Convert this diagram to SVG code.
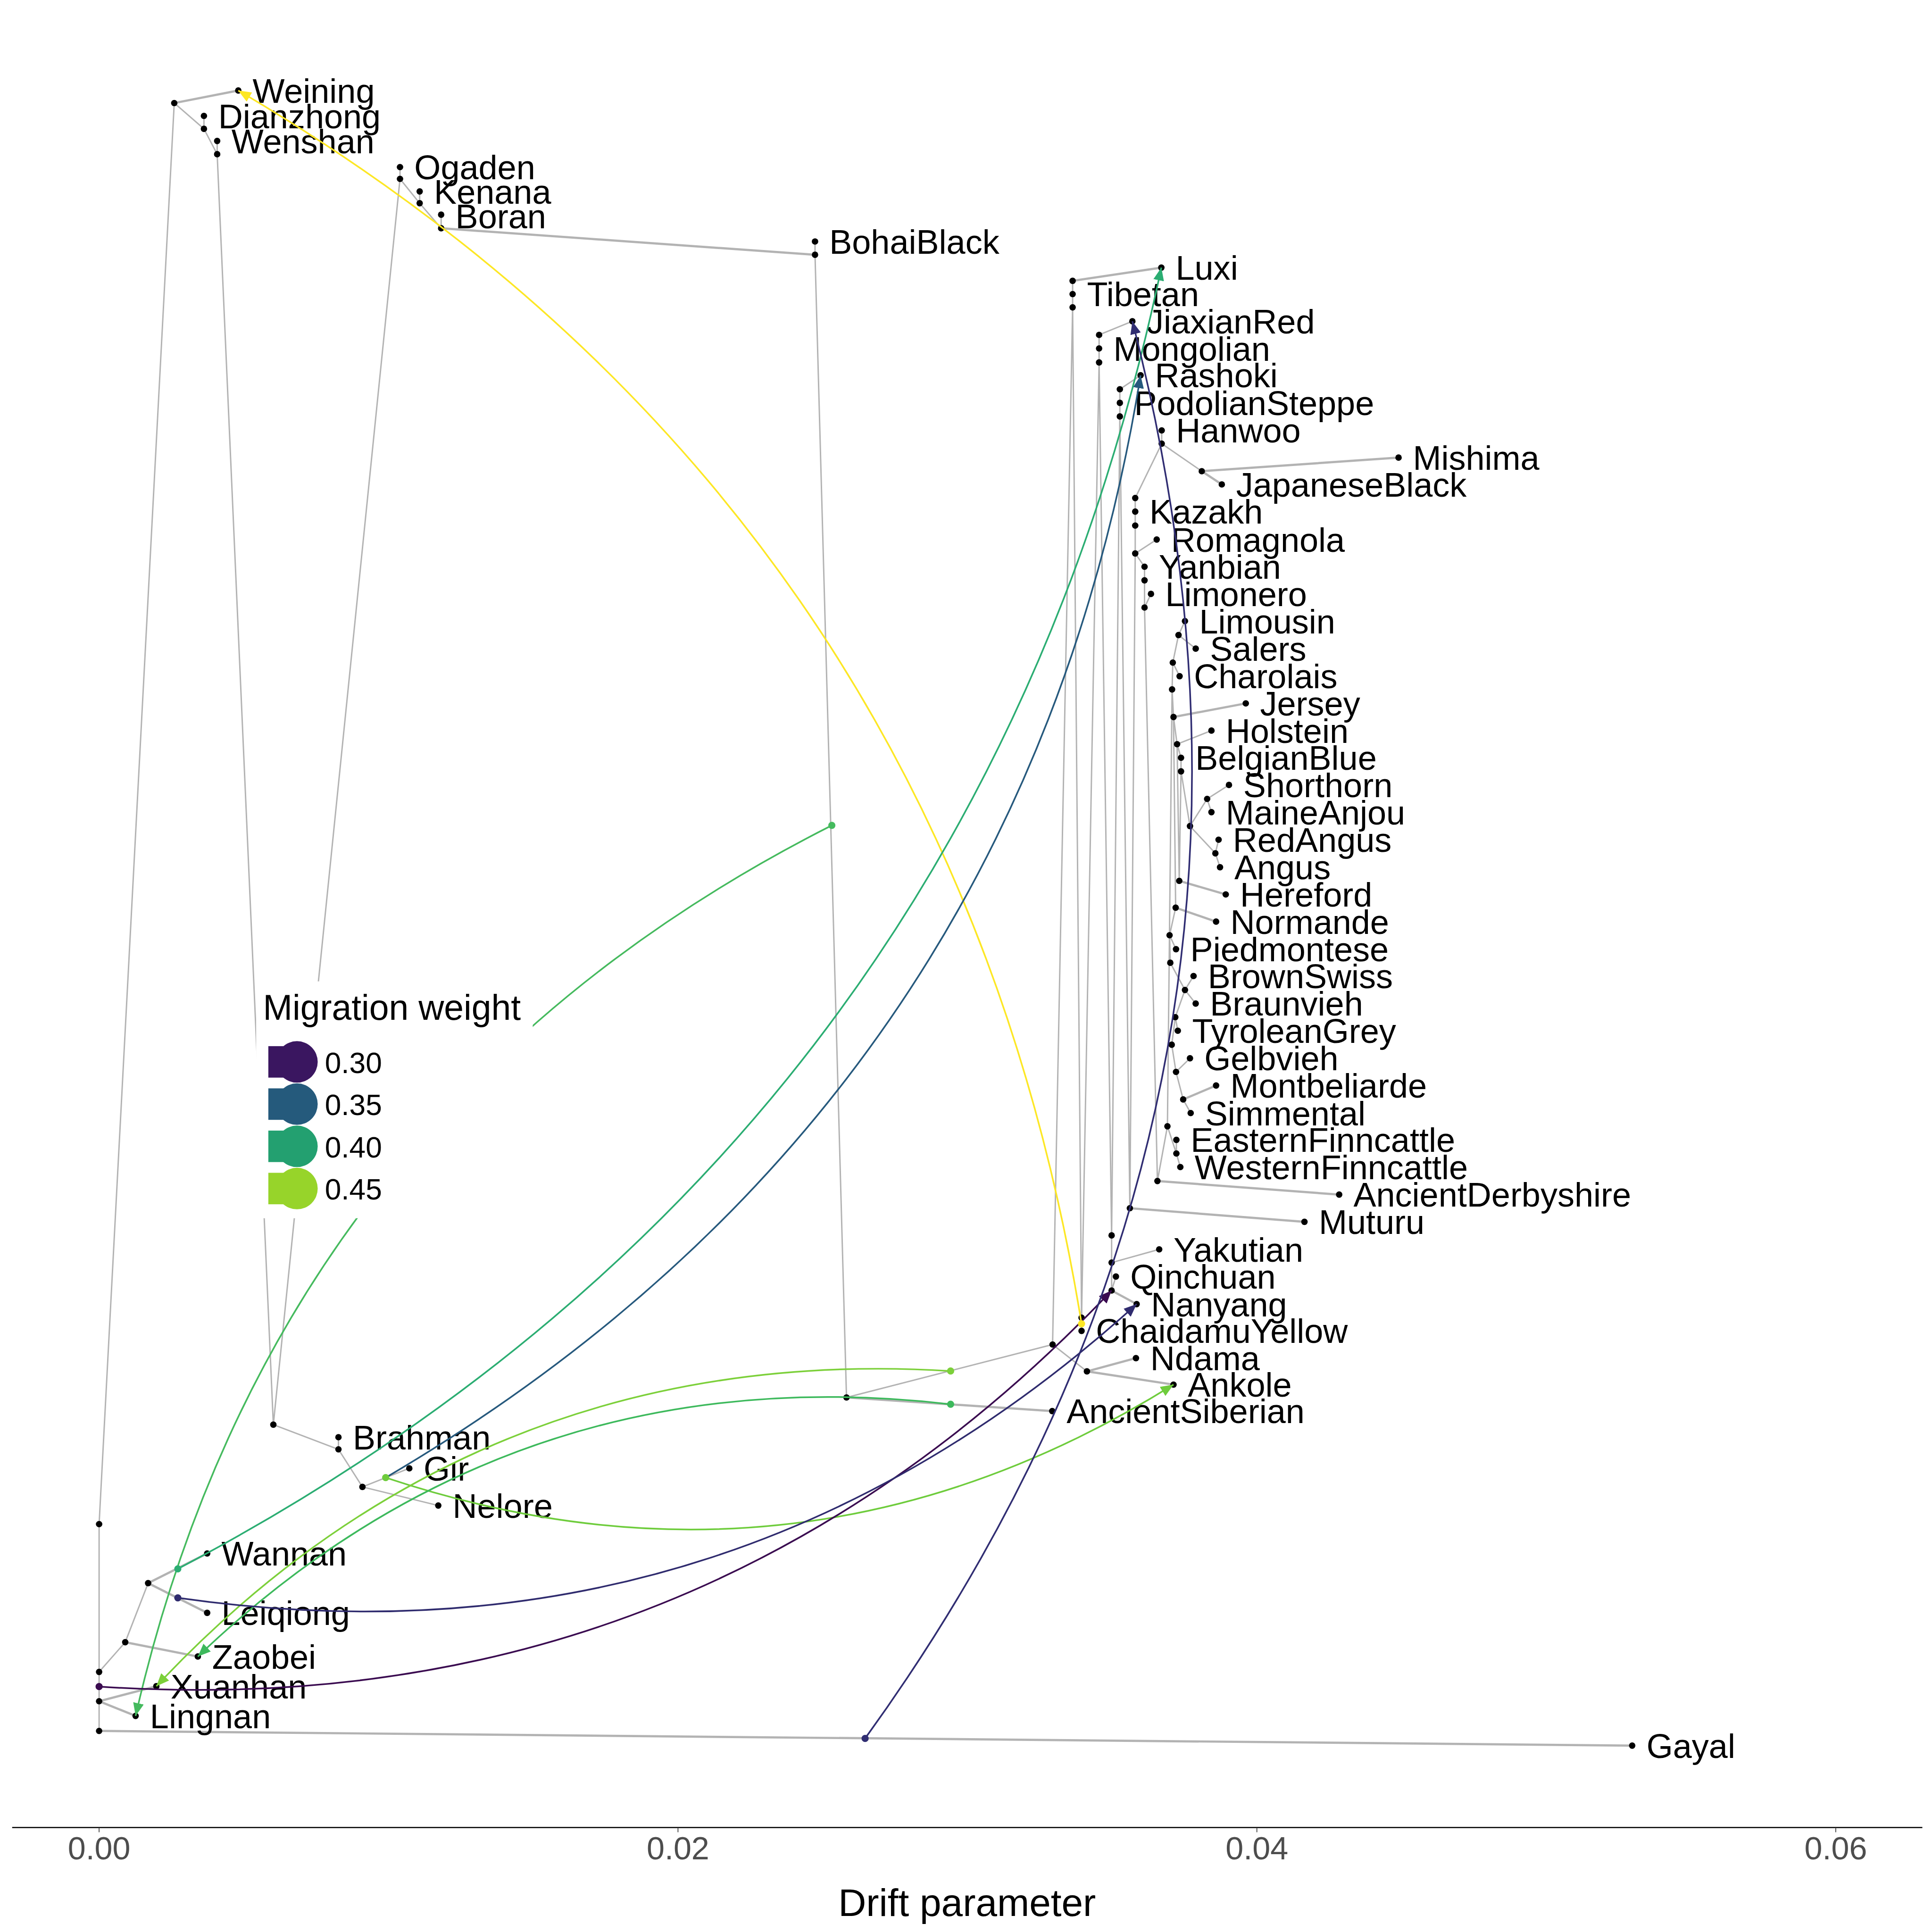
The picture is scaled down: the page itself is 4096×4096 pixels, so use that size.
<svg xmlns="http://www.w3.org/2000/svg" width="4096" height="4096" viewBox="0 0 4096 4096">
<style>
text{font-family:"Liberation Sans",Arial,sans-serif}
.e path{stroke:#B3B3B3;stroke-width:3.9;fill:none}
.e path.t{stroke-width:6.2}
.nd circle{fill:#000}
.nd text{font-size:95px;fill:#000}
.mig path{fill:none;stroke-width:4.6}
.src circle{stroke:none}
.tick{font-size:90px;fill:#4D4D4D;text-anchor:middle}
</style>
<defs>
<marker id="aY" markerUnits="userSpaceOnUse" markerWidth="36" markerHeight="30" viewBox="0 0 36 30" refX="36" refY="15" orient="auto"><path d="M0,0L36,15L0,30z" fill="#FDE725"/></marker>
<marker id="aLx" markerUnits="userSpaceOnUse" markerWidth="36" markerHeight="30" viewBox="0 0 36 30" refX="36" refY="15" orient="auto"><path d="M0,0L36,15L0,30z" fill="#2BAD72"/></marker>
<marker id="aR" markerUnits="userSpaceOnUse" markerWidth="36" markerHeight="30" viewBox="0 0 36 30" refX="36" refY="15" orient="auto"><path d="M0,0L36,15L0,30z" fill="#26597D"/></marker>
<marker id="aAk" markerUnits="userSpaceOnUse" markerWidth="36" markerHeight="30" viewBox="0 0 36 30" refX="36" refY="15" orient="auto"><path d="M0,0L36,15L0,30z" fill="#6ECC3C"/></marker>
<marker id="aLn" markerUnits="userSpaceOnUse" markerWidth="36" markerHeight="30" viewBox="0 0 36 30" refX="36" refY="15" orient="auto"><path d="M0,0L36,15L0,30z" fill="#45BA5E"/></marker>
<marker id="aZ" markerUnits="userSpaceOnUse" markerWidth="36" markerHeight="30" viewBox="0 0 36 30" refX="36" refY="15" orient="auto"><path d="M0,0L36,15L0,30z" fill="#3DB95C"/></marker>
<marker id="aX" markerUnits="userSpaceOnUse" markerWidth="36" markerHeight="30" viewBox="0 0 36 30" refX="36" refY="15" orient="auto"><path d="M0,0L36,15L0,30z" fill="#7CD03A"/></marker>
<marker id="aQ" markerUnits="userSpaceOnUse" markerWidth="36" markerHeight="30" viewBox="0 0 36 30" refX="36" refY="15" orient="auto"><path d="M0,0L36,15L0,30z" fill="#3A0B50"/></marker>
<marker id="aN" markerUnits="userSpaceOnUse" markerWidth="36" markerHeight="30" viewBox="0 0 36 30" refX="36" refY="15" orient="auto"><path d="M0,0L36,15L0,30z" fill="#2F2B6E"/></marker>
<marker id="aJ" markerUnits="userSpaceOnUse" markerWidth="36" markerHeight="30" viewBox="0 0 36 30" refX="36" refY="15" orient="auto"><path d="M0,0L36,15L0,30z" fill="#302D72"/></marker>
</defs>
<rect width="4096" height="4096" fill="#FFFFFF"/>
<g transform="scale(0.758519)">
<g id="connectors">
<g class="e" id="tree-edges">
<path class="t" d="M487 288L666 253"/>
<path d="M487 288L570 360M570 360L570 324M570 360L607 431M607 431L607 394M607 431L764 3982M487 288L277 4260"/>
<path d="M1118 500L1118 467M1118 500L1173 568M1173 568L1173 535M1173 568L1233 638M1233 638L1233 600"/>
<path class="t" d="M1233 638L2278 712"/>
<path d="M2278 712L2278 675M2278 712L2366 3906M1118 500L764 3982"/>
<path d="M764 3982L946 4051M946 4051L946 4017M946 4051L1013 4156M1013 4156L1144 4104M1013 4156L1225 4208"/>
<path d="M277 4260L277 4673M277 4673L277 4755M277 4755L277 4838M277 4673L350 4590M350 4590L414 4425"/>
<path class="t" d="M350 4590L553 4630M414 4425L579 4342M414 4425L579 4508M277 4755L437 4713M277 4755L379 4796M277 4838L4562 4879"/>
<path d="M2366 3906L2942 3758"/>
<path class="t" d="M2366 3906L2941 3944"/>
<path d="M2942 3758L3038 3833"/>
<path class="t" d="M3038 3833L3175 3796M3038 3833L3280 3870"/>
<path d="M2942 3758L2998 859M2998 859L3023 3683M2998 785L2998 859"/>
<path class="t" d="M2998 785L3246 748"/>
<path d="M3072 936L3165 898M3072 936L3072 1013M3072 1013L3023 3683M3072 1013L3107 3453"/>
<path d="M3130 1088L3188 1049M3130 1088L3130 1164M3130 1164L3107 3453M3130 1164L3158 3377"/>
<path d="M3247 1203L3247 1240M3247 1240L3359 1317M3247 1240L3173 1392"/>
<path class="t" d="M3359 1317L3909 1279M3359 1317L3415 1354"/>
<path d="M3173 1392L3173 1547M3173 1547L3233 1508M3173 1547L3199 1584M3173 1547L3158 3377"/>
<path d="M3199 1584L3199 1698M3199 1698L3217 1660M3199 1698L3235 3301"/>
<path d="M3294 1775L3312 1736M3294 1775L3342 1813M3278 1852L3294 1775M3278 1852L3297 1890M3278 1852L3276 1927M3276 1927L3280 2004M3276 1927L3263 3148"/>
<path class="t" d="M3280 2004L3482 1966"/>
<path d="M3280 2004L3290 2080M3290 2080L3386 2042M3290 2080L3301 2118M3301 2118L3301 2156M3301 2156L3326 2309"/>
<path d="M3326 2309L3374 2233M3374 2233L3435 2194M3374 2233L3386 2270M3326 2309L3397 2385M3397 2385L3406 2347M3397 2385L3410 2424"/>
<path d="M3280 2004L3286 2537M3290 2080L3296 2462M3301 2156L3296 2462"/>
<path class="t" d="M3296 2462L3426 2500M3286 2537L3399 2576"/>
<path d="M3286 2537L3269 2614M3269 2614L3287 2653M3269 2614L3271 2691M3271 2691L3312 2767M3312 2767L3336 2728M3312 2767L3342 2805M3312 2767L3285 2843"/>
<path d="M3285 2843L3292 2881M3285 2843L3275 2920M3275 2920L3287 2996M3287 2996L3326 2958M3287 2996L3307 3073M3307 3073L3328 3111"/>
<path class="t" d="M3307 3073L3399 3034"/>
<path d="M3263 3148L3288 3224M3288 3224L3288 3186M3288 3224L3299 3262M3235 3301L3263 3148"/>
<path class="t" d="M3235 3301L3743 3339M3158 3377L3646 3415"/>
<path d="M3107 3453L3107 3607M3107 3529L3240 3492M3107 3607L3119 3568"/>
<path class="t" d="M3107 3607L3177 3645"/>
<path d="M3023 3683L3023 3720"/>
</g>
</g>
<g id="nodes" class="nd">
<g id="i-A"><circle cx="487" cy="288" r="9"/></g>
<g id="i-D2"><circle cx="570" cy="360" r="9"/></g>
<g id="i-W2"><circle cx="607" cy="431" r="9"/></g>
<g id="i-O2"><circle cx="1118" cy="500" r="9"/></g>
<g id="i-K2"><circle cx="1173" cy="568" r="9"/></g>
<g id="i-B2"><circle cx="1233" cy="638" r="9"/></g>
<g id="i-BB2"><circle cx="2278" cy="712" r="9"/></g>
<g id="i-Bint"><circle cx="764" cy="3982" r="9"/></g>
<g id="i-Br2"><circle cx="946" cy="4051" r="9"/></g>
<g id="i-GN"><circle cx="1013" cy="4156" r="9"/></g>
<g id="i-L0"><circle cx="277" cy="4260" r="9"/></g>
<g id="i-R1"><circle cx="277" cy="4673" r="9"/></g>
<g id="i-R2"><circle cx="277" cy="4755" r="9"/></g>
<g id="i-Root"><circle cx="277" cy="4838" r="9"/></g>
<g id="i-WL"><circle cx="350" cy="4590" r="9"/></g>
<g id="i-WLq"><circle cx="414" cy="4425" r="9"/></g>
<g id="i-M1"><circle cx="2366" cy="3906" r="9"/></g>
<g id="i-N1"><circle cx="2942" cy="3758" r="9"/></g>
<g id="i-NA"><circle cx="3038" cy="3833" r="9"/></g>
<g id="i-T1"><circle cx="2998" cy="785" r="9"/></g>
<g id="i-T3"><circle cx="2998" cy="859" r="9"/></g>
<g id="i-Mg1"><circle cx="3072" cy="936" r="9"/></g>
<g id="i-Mg3"><circle cx="3072" cy="1013" r="9"/></g>
<g id="i-P1"><circle cx="3130" cy="1088" r="9"/></g>
<g id="i-P3"><circle cx="3130" cy="1164" r="9"/></g>
<g id="i-H2"><circle cx="3247" cy="1240" r="9"/></g>
<g id="i-JB"><circle cx="3359" cy="1317" r="9"/></g>
<g id="i-K1"><circle cx="3173" cy="1392" r="9"/></g>
<g id="i-K3"><circle cx="3173" cy="1469" r="9"/></g>
<g id="i-KR"><circle cx="3173" cy="1547" r="9"/></g>
<g id="i-Y2"><circle cx="3199" cy="1622" r="9"/></g>
<g id="i-YL"><circle cx="3199" cy="1698" r="9"/></g>
<g id="i-LS"><circle cx="3294" cy="1775" r="9"/></g>
<g id="i-CL"><circle cx="3278" cy="1852" r="9"/></g>
<g id="i-X1"><circle cx="3276" cy="1927" r="9"/></g>
<g id="i-JI"><circle cx="3280" cy="2004" r="9"/></g>
<g id="i-HI"><circle cx="3290" cy="2080" r="9"/></g>
<g id="i-BBi"><circle cx="3301" cy="2156" r="9"/></g>
<g id="i-SM"><circle cx="3374" cy="2233" r="9"/></g>
<g id="i-AC"><circle cx="3326" cy="2309" r="9"/></g>
<g id="i-RA"><circle cx="3397" cy="2385" r="9"/></g>
<g id="i-HF"><circle cx="3296" cy="2462" r="9"/></g>
<g id="i-NM"><circle cx="3286" cy="2537" r="9"/></g>
<g id="i-PD"><circle cx="3269" cy="2614" r="9"/></g>
<g id="i-PM"><circle cx="3271" cy="2691" r="9"/></g>
<g id="i-BS"><circle cx="3312" cy="2767" r="9"/></g>
<g id="i-TG"><circle cx="3285" cy="2843" r="9"/></g>
<g id="i-TG2"><circle cx="3275" cy="2920" r="9"/></g>
<g id="i-GM"><circle cx="3287" cy="2996" r="9"/></g>
<g id="i-MS"><circle cx="3307" cy="3073" r="9"/></g>
<g id="i-EF0"><circle cx="3263" cy="3148" r="9"/></g>
<g id="i-EI"><circle cx="3288" cy="3224" r="9"/></g>
<g id="i-AD0"><circle cx="3235" cy="3301" r="9"/></g>
<g id="i-Mu0"><circle cx="3158" cy="3377" r="9"/></g>
<g id="i-Y0"><circle cx="3107" cy="3453" r="9"/></g>
<g id="i-YK"><circle cx="3107" cy="3529" r="9"/></g>
<g id="i-QC"><circle cx="3107" cy="3607" r="9"/></g>
<g id="i-C0"><circle cx="3023" cy="3683" r="9"/></g>
<g id="n-Weining"><circle cx="666" cy="253" r="9"/><text x="706" y="287">Weining</text></g>
<g id="n-Dianzhong"><circle cx="570" cy="324" r="9"/><text x="610" y="358">Dianzhong</text></g>
<g id="n-Wenshan"><circle cx="607" cy="394" r="9"/><text x="647" y="428">Wenshan</text></g>
<g id="n-Ogaden"><circle cx="1118" cy="467" r="9"/><text x="1158" y="501">Ogaden</text></g>
<g id="n-Kenana"><circle cx="1173" cy="535" r="9"/><text x="1213" y="569">Kenana</text></g>
<g id="n-Boran"><circle cx="1233" cy="600" r="9"/><text x="1273" y="638">Boran</text></g>
<g id="n-BohaiBlack"><circle cx="2278" cy="675" r="9"/><text x="2318" y="709">BohaiBlack</text></g>
<g id="n-Luxi"><circle cx="3246" cy="748" r="9"/><text x="3286" y="782">Luxi</text></g>
<g id="n-Tibetan"><circle cx="2998" cy="822" r="9"/><text x="3038" y="856">Tibetan</text></g>
<g id="n-JiaxianRed"><circle cx="3165" cy="898" r="9"/><text x="3205" y="932">JiaxianRed</text></g>
<g id="n-Mongolian"><circle cx="3072" cy="974" r="9"/><text x="3112" y="1008">Mongolian</text></g>
<g id="n-Rashoki"><circle cx="3188" cy="1049" r="9"/><text x="3228" y="1083">Rashoki</text></g>
<g id="n-PodolianSteppe"><circle cx="3130" cy="1126" r="9"/><text x="3170" y="1160">PodolianSteppe</text></g>
<g id="n-Hanwoo"><circle cx="3247" cy="1203" r="9"/><text x="3287" y="1237">Hanwoo</text></g>
<g id="n-Mishima"><circle cx="3909" cy="1279" r="9"/><text x="3949" y="1313">Mishima</text></g>
<g id="n-JapaneseBlack"><circle cx="3415" cy="1354" r="9"/><text x="3455" y="1388">JapaneseBlack</text></g>
<g id="n-Kazakh"><circle cx="3173" cy="1430" r="9"/><text x="3213" y="1464">Kazakh</text></g>
<g id="n-Romagnola"><circle cx="3233" cy="1508" r="9"/><text x="3273" y="1542">Romagnola</text></g>
<g id="n-Yanbian"><circle cx="3199" cy="1584" r="9"/><text x="3239" y="1618">Yanbian</text></g>
<g id="n-Limonero"><circle cx="3217" cy="1660" r="9"/><text x="3257" y="1694">Limonero</text></g>
<g id="n-Limousin"><circle cx="3312" cy="1736" r="9"/><text x="3352" y="1770">Limousin</text></g>
<g id="n-Salers"><circle cx="3342" cy="1813" r="9"/><text x="3382" y="1847">Salers</text></g>
<g id="n-Charolais"><circle cx="3297" cy="1890" r="9"/><text x="3337" y="1924">Charolais</text></g>
<g id="n-Jersey"><circle cx="3482" cy="1966" r="9"/><text x="3522" y="2000">Jersey</text></g>
<g id="n-Holstein"><circle cx="3386" cy="2042" r="9"/><text x="3426" y="2076">Holstein</text></g>
<g id="n-BelgianBlue"><circle cx="3301" cy="2118" r="9"/><text x="3341" y="2152">BelgianBlue</text></g>
<g id="n-Shorthorn"><circle cx="3435" cy="2194" r="9"/><text x="3475" y="2228">Shorthorn</text></g>
<g id="n-MaineAnjou"><circle cx="3386" cy="2270" r="9"/><text x="3426" y="2304">MaineAnjou</text></g>
<g id="n-RedAngus"><circle cx="3406" cy="2347" r="9"/><text x="3446" y="2381">RedAngus</text></g>
<g id="n-Angus"><circle cx="3410" cy="2424" r="9"/><text x="3450" y="2458">Angus</text></g>
<g id="n-Hereford"><circle cx="3426" cy="2500" r="9"/><text x="3466" y="2534">Hereford</text></g>
<g id="n-Normande"><circle cx="3399" cy="2576" r="9"/><text x="3439" y="2610">Normande</text></g>
<g id="n-Piedmontese"><circle cx="3287" cy="2653" r="9"/><text x="3327" y="2687">Piedmontese</text></g>
<g id="n-BrownSwiss"><circle cx="3336" cy="2728" r="9"/><text x="3376" y="2762">BrownSwiss</text></g>
<g id="n-Braunvieh"><circle cx="3342" cy="2805" r="9"/><text x="3382" y="2839">Braunvieh</text></g>
<g id="n-TyroleanGrey"><circle cx="3292" cy="2881" r="9"/><text x="3332" y="2915">TyroleanGrey</text></g>
<g id="n-Gelbvieh"><circle cx="3326" cy="2958" r="9"/><text x="3366" y="2992">Gelbvieh</text></g>
<g id="n-Montbeliarde"><circle cx="3399" cy="3034" r="9"/><text x="3439" y="3068">Montbeliarde</text></g>
<g id="n-Simmental"><circle cx="3328" cy="3111" r="9"/><text x="3368" y="3145">Simmental</text></g>
<g id="n-EasternFinncattle"><circle cx="3288" cy="3186" r="9"/><text x="3328" y="3220">EasternFinncattle</text></g>
<g id="n-WesternFinncattle"><circle cx="3299" cy="3262" r="9"/><text x="3339" y="3296">WesternFinncattle</text></g>
<g id="n-AncientDerbyshire"><circle cx="3743" cy="3339" r="9"/><text x="3783" y="3373">AncientDerbyshire</text></g>
<g id="n-Muturu"><circle cx="3646" cy="3415" r="9"/><text x="3686" y="3449">Muturu</text></g>
<g id="n-Yakutian"><circle cx="3240" cy="3492" r="9"/><text x="3280" y="3526">Yakutian</text></g>
<g id="n-Qinchuan"><circle cx="3119" cy="3568" r="9"/><text x="3159" y="3602">Qinchuan</text></g>
<g id="n-Nanyang"><circle cx="3177" cy="3645" r="9"/><text x="3217" y="3679">Nanyang</text></g>
<g id="n-ChaidamuYellow"><circle cx="3023" cy="3720" r="9"/><text x="3063" y="3754">ChaidamuYellow</text></g>
<g id="n-Ndama"><circle cx="3175" cy="3796" r="9"/><text x="3215" y="3830">Ndama</text></g>
<g id="n-Ankole"><circle cx="3280" cy="3870" r="9"/><text x="3320" y="3904">Ankole</text></g>
<g id="n-AncientSiberian"><circle cx="2941" cy="3944" r="9"/><text x="2981" y="3978">AncientSiberian</text></g>
<g id="n-Brahman"><circle cx="946" cy="4017" r="9"/><text x="986" y="4051">Brahman</text></g>
<g id="n-Gir"><circle cx="1144" cy="4104" r="9"/><text x="1184" y="4138">Gir</text></g>
<g id="n-Nelore"><circle cx="1225" cy="4208" r="9"/><text x="1265" y="4242">Nelore</text></g>
<g id="n-Wannan"><circle cx="579" cy="4342" r="9"/><text x="619" y="4376">Wannan</text></g>
<g id="n-Leiqiong"><circle cx="579" cy="4508" r="9"/><text x="619" y="4542">Leiqiong</text></g>
<g id="n-Zaobei"><circle cx="553" cy="4630" r="9"/><text x="593" y="4664">Zaobei</text></g>
<g id="n-Xuanhan"><circle cx="437" cy="4713" r="9"/><text x="477" y="4747">Xuanhan</text></g>
<g id="n-Lingnan"><circle cx="379" cy="4796" r="9"/><text x="419" y="4830">Lingnan</text></g>
<g id="n-Gayal"><circle cx="4562" cy="4879" r="9"/><text x="4602" y="4913">Gayal</text></g>
</g>
<g id="migration-edges" class="mig">
<path d="M3023 3700Q2654.5 1422.5 666 253" stroke="#FDE725" marker-end="url(#aY)"/>
<path d="M497 4385Q2726 3212.5 3246 748" stroke="#2BAD72" marker-end="url(#aLx)"/>
<path d="M1078 4130Q2857 3085.5 3188 1049" stroke="#26597D" marker-end="url(#aR)"/>
<path d="M1078 4130Q2240 4517.5 3280 3870" stroke="#6ECC3C" marker-end="url(#aAk)"/>
<path d="M2325 2307Q767 3094.5 379 4796" stroke="#45BA5E" marker-end="url(#aLn)"/>
<path d="M2657 3925Q1439 3783 553 4630" stroke="#3DB95C" marker-end="url(#aZ)"/>
<path d="M2657 3832Q1340 3751 437 4713" stroke="#7CD03A" marker-end="url(#aX)"/>
<path d="M277 4714Q1952 4825.5 3107 3607" stroke="#3A0B50" marker-end="url(#aQ)"/>
<path d="M497 4466Q2030 4685.5 3177 3645" stroke="#2F2B6E" marker-end="url(#aN)"/>
<path d="M2418 4859Q3722 3054 3165 898" stroke="#302D72" marker-end="url(#aJ)"/>
</g>
<g id="migration-sources" class="src">
<circle cx="3023" cy="3700" r="10" fill="#FDE725"/>
<circle cx="2325" cy="2307" r="10" fill="#45BA5E"/>
<circle cx="2657" cy="3832" r="10" fill="#7CD03A"/>
<circle cx="2657" cy="3925" r="10" fill="#3DB95C"/>
<circle cx="1078" cy="4130" r="10" fill="#6ECC3C"/>
<circle cx="497" cy="4385" r="10" fill="#2BAD72"/>
<circle cx="497" cy="4466" r="10" fill="#2F2B6E"/>
<circle cx="277" cy="4714" r="10" fill="#3A0B50"/>
<circle cx="2418" cy="4859" r="10" fill="#302D72"/>
</g>
<g id="legend">
<rect x="716" y="2743" width="773" height="662" fill="#FFFFFF"/>
<text x="735" y="2850" font-size="99">Migration weight</text>
<g id="key-030"><rect x="750" y="2924" width="80" height="88" fill="#3A1660"/><circle cx="830" cy="2968" r="58" fill="#3A1660"/><text x="908" y="2999" font-size="82">0.30</text></g>
<g id="key-035"><rect x="750" y="3042" width="80" height="88" fill="#255A7C"/><circle cx="830" cy="3086" r="58" fill="#255A7C"/><text x="908" y="3117" font-size="82">0.35</text></g>
<g id="key-040"><rect x="750" y="3160" width="80" height="88" fill="#23A070"/><circle cx="830" cy="3204" r="58" fill="#23A070"/><text x="908" y="3235" font-size="82">0.40</text></g>
<g id="key-045"><rect x="750" y="3278" width="80" height="88" fill="#97D42A"/><circle cx="830" cy="3322" r="58" fill="#97D42A"/><text x="908" y="3353" font-size="82">0.45</text></g>
</g>
<g id="x-axis">
<path d="M34 5108L5373 5108" stroke="#000" stroke-width="3.5"/>
<path d="M277 5109V5121M1895 5109V5121M3513 5109V5121M5131 5109V5121" stroke="#4D4D4D" stroke-width="2.5"/>
<text class="tick" x="277" y="5197">0.00</text>
<text class="tick" x="1895" y="5197">0.02</text>
<text class="tick" x="3513" y="5197">0.04</text>
<text class="tick" x="5131" y="5197">0.06</text>
<text x="2703" y="5355" font-size="108" text-anchor="middle">Drift parameter</text>
</g>
</g>
</svg>
